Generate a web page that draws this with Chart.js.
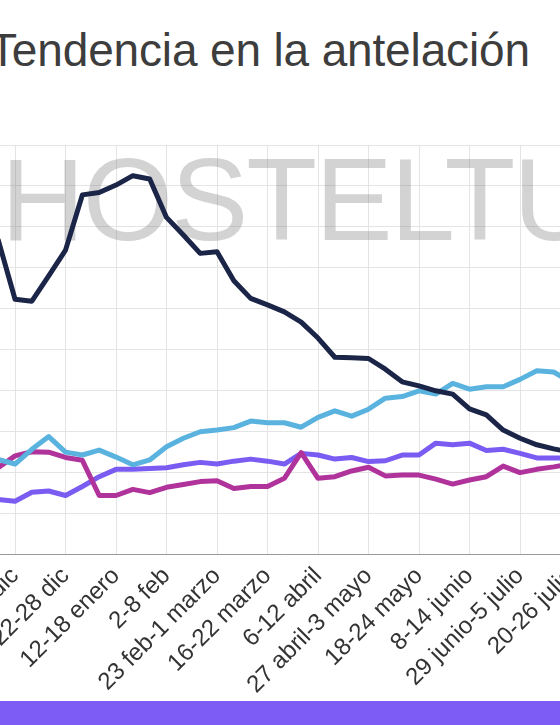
<!doctype html>
<html lang="es">
<head>
    <meta charset="UTF-8"/>
    <meta name="viewport" content="width=device-width, initial-scale=1.0"/>
    <title>Tendencia en la antelación</title>
    <script src="https://cdn.jsdelivr.net/npm/chart.js@4.4.1/dist/chart.umd.min.js"></script>
    <style>
        html, body { margin: 0; padding: 0; background: #fff; width: 560px; height: 725px; overflow: hidden; position: relative; }
        #title { position: absolute; left: -11px; top: 27px; margin: 0; font: 400 46px/46px "Liberation Sans", Arial, sans-serif; letter-spacing: -0.15px; color: #3d3d3d; white-space: nowrap; }
        #wrap { position: absolute; left: -20px; top: 140px; width: 610px; height: 560px; }
        #band { position: absolute; left: 0; top: 701px; width: 560px; height: 24px; background: #7d5cf5; }
    </style>
</head>
<body>
<h1 id="title">Tendencia en la antelación</h1>
<div id="wrap"><canvas id="trendChart"></canvas></div>
<div id="band"></div>

<script>
    // weekly periods, one label every three weeks is shown
    const weeks = [
        '24-30 nov', '1-7 dic', '8-14 dic', '15-21 dic', '22-28 dic', '29 dic-4 enero', '5-11 enero',
        '12-18 enero', '19-25 enero', '26 enero-1 feb', '2-8 feb', '9-15 feb', '16-22 feb',
        '23 feb-1 marzo', '2-8 marzo', '9-15 marzo', '16-22 marzo', '23-29 marzo', '30 marzo-5 abril',
        '6-12 abril', '13-19 abril', '20-26 abril', '27 abril-3 mayo', '4-10 mayo', '11-17 mayo',
        '18-24 mayo', '25-31 mayo', '1-7 junio', '8-14 junio', '15-21 junio', '22-28 junio',
        '29 junio-5 julio', '6-12 julio', '13-19 julio', '20-26 julio'
    ];
    const serieNavy = [76.8, 62.3, 61.8, 68.0, 74.3, 87.8, 88.4, 90.2, 92.5, 91.7, 82.3, 78.0, 73.5, 73.9, 66.8, 62.5, 60.9, 59.2, 56.7, 52.8, 48.1, 48.0, 47.8, 45.2, 42.1, 41.1, 39.9, 39.1, 35.5, 34.0, 30.3, 28.3, 26.7, 25.7, 24.9];
    const serieAzul = [23.1, 22.0, 25.6, 28.7, 24.9, 24.2, 25.4, 23.7, 21.8, 23.0, 26.2, 28.3, 29.9, 30.3, 30.9, 32.5, 32.1, 32.1, 31.0, 33.4, 35.0, 33.7, 35.4, 38.1, 38.5, 39.9, 39.1, 41.7, 40.3, 40.9, 40.9, 42.7, 44.8, 44.5, 42.1];
    const serieMagenta = [21.1, 24.0, 25.0, 24.9, 23.6, 22.9, 14.3, 14.3, 15.8, 15.0, 16.3, 17.0, 17.7, 17.9, 16.0, 16.5, 16.5, 18.5, 24.8, 18.5, 18.9, 20.3, 21.2, 19.1, 19.3, 19.3, 18.3, 17.1, 18.1, 18.9, 21.5, 19.9, 20.7, 21.3, 22.0];
    const serieMorado = [13.3, 12.9, 15.1, 15.4, 14.3, 16.5, 18.9, 20.7, 20.7, 20.9, 21.1, 21.8, 22.4, 22.0, 22.7, 23.2, 22.7, 22.0, 24.6, 24.2, 23.2, 23.6, 22.6, 22.8, 24.2, 24.2, 27.1, 26.7, 27.1, 25.3, 25.6, 24.6, 23.5, 23.5, 23.5];

    const isLabelled = (i) => (i - 1) % 3 === 0;
    const gridGrey = '#e4e4e4';

    // big grey watermark behind the lines
    const watermark = {
        id: 'watermark',
        beforeDatasetsDraw(chart) {
            const {ctx, chartArea} = chart;
            ctx.save();
            ctx.font = '116px "Liberation Sans"';
            ctx.letterSpacing = '-2px';
            ctx.fillStyle = 'rgba(110, 110, 110, 0.3)';
            ctx.textBaseline = 'alphabetic';
            ctx.fillText('HOSTELTUR', chartArea.left + 2.8, chartArea.top + 95);
            ctx.restore();
        }
    };

    const ctx = document.getElementById('trendChart').getContext('2d');

    new Chart(ctx, {
        type: 'line',
        data: {
            labels: weeks,
            datasets: [
                {label: 'Serie 1', data: serieNavy, borderColor: '#1b2548'},
                {label: 'Serie 2', data: serieAzul, borderColor: '#5ab3df'},
                {label: 'Serie 3', data: serieMagenta, borderColor: '#b0339c'},
                {label: 'Serie 4', data: serieMorado, borderColor: '#7b5cf2'}
            ]
        },
        plugins: [watermark],
        options: {
            responsive: true,
            maintainAspectRatio: false,
            animation: false,
            layout: {padding: {left: 18.2, right: 19.5, top: 5, bottom: 0}},
            plugins: {
                legend: {display: false},
                tooltip: {enabled: false}
            },
            elements: {
                point: {radius: 0},
                line: {borderWidth: 5, tension: 0, borderCapStyle: 'round', borderJoinStyle: 'round'}
            },
            scales: {
                x: {
                    grid: {
                        color: (c) => isLabelled(c.index) ? gridGrey : 'rgba(0,0,0,0)',
                        drawTicks: false
                    },
                    border: {color: '#9a9a9a', width: 1},
                    ticks: {
                        autoSkip: false,
                        minRotation: 45,
                        maxRotation: 45,
                        padding: 8,
                        color: '#333',
                        font: {family: 'Liberation Sans', size: 24},
                        callback: function (value, i) {
                            return isLabelled(i) ? this.getLabelForValue(value) : '';
                        }
                    },
                    afterFit: (scale) => {
                        scale.height = 146;
                        scale.paddingLeft = 0;
                        scale.paddingRight = 0;
                    }
                },
                y: {
                    min: 0,
                    max: 100,
                    ticks: {display: false, stepSize: 10},
                    grid: {color: gridGrey, drawTicks: false},
                    border: {display: false},
                    afterFit: (scale) => {
                        scale.width = 0;
                    }
                }
            }
        }
    });
</script>
</body>
</html>
